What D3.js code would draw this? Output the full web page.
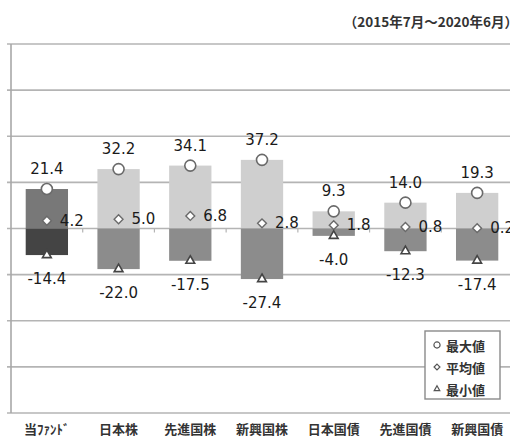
<!DOCTYPE html>
<html>
<head>
<meta charset="utf-8">
<script src="https://cdn.jsdelivr.net/npm/d3@7"></script>
<style>
  body { margin: 0; background: #fff; }
  text { font-family: "DejaVu Sans", sans-serif; }
</style>
</head>
<body>
<div id="chart"></div>
<script>
const categories = ["当ﾌｧﾝﾄﾞ", "日本株", "先進国株", "新興国株", "日本国債", "先進国債", "新興国債"];
const maxValues = [21.4, 32.2, 34.1, 37.2, 9.3, 14.0, 19.3];
const avgValues = [4.2, 5.0, 6.8, 2.8, 1.8, 0.8, 0.2];
const minValues = [-14.4, -22.0, -17.5, -27.4, -4.0, -12.3, -17.4];
const yTicks = [-100, -75, -50, -25, 0, 25, 50, 75, 100];
const legendLabels = ["最大値", "平均値", "最小値"];

const width = 510, height = 436;
const cjk = '"Noto Sans CJK JP", sans-serif';

const svg = d3.select("#chart").append("svg")
    .attr("width", width)
    .attr("height", height);

const x = d3.scaleBand()
    .domain(categories)
    .range([11, 513])
    .paddingInner(0.41)
    .paddingOuter(0.205);

const y = d3.scaleLinear()
    .domain([-100, 100])
    .range([413, 44]);

// gridlines
svg.append("g")
    .selectAll("line")
    .data(yTicks)
    .enter()
    .append("line")
    .attr("x1", 7)
    .attr("x2", width)
    .attr("y1", d => y(d))
    .attr("y2", d => y(d))
    .attr("stroke", "#b4b4b4")
    .attr("stroke-width", 1.6);

// left axis line
svg.append("line")
    .attr("x1", 11).attr("x2", 11)
    .attr("y1", y(100)).attr("y2", y(-100))
    .attr("stroke", "#a8a8a8")
    .attr("stroke-width", 1.6);

// small ticks between categories on the zero line
const gap = (x.step() - x.bandwidth()) / 2;
svg.append("g")
    .selectAll("line")
    .data(categories.slice(1))
    .enter()
    .append("line")
    .attr("x1", d => x(d) - gap)
    .attr("x2", d => x(d) - gap)
    .attr("y1", y(0))
    .attr("y2", y(0) + 4)
    .attr("stroke", "#b4b4b4")
    .attr("stroke-width", 1.2);

// bars: positive part (0..max) and negative part (min..0)
const bars = svg.append("g");
categories.forEach((c, i) => {
    const first = i === 0;
    bars.append("rect")
        .attr("x", x(c))
        .attr("width", x.bandwidth())
        .attr("y", y(maxValues[i]))
        .attr("height", y(0) - y(maxValues[i]))
        .attr("fill", first ? "#787878" : "#cfcfcf");
    bars.append("rect")
        .attr("x", x(c))
        .attr("width", x.bandwidth())
        .attr("y", y(0))
        .attr("height", y(minValues[i]) - y(0))
        .attr("fill", first ? "#444444" : "#8c8c8c");
});

const cx = c => x(c) + x.bandwidth() / 2;

// markers
svg.append("g")
    .selectAll("circle")
    .data(categories)
    .enter()
    .append("circle")
    .attr("cx", cx)
    .attr("cy", (d, i) => y(maxValues[i]))
    .attr("r", 5.5)
    .attr("fill", "#fff")
    .attr("stroke", "#6a6a6a")
    .attr("stroke-width", 1.6);

svg.append("g")
    .selectAll("path")
    .data(categories)
    .enter()
    .append("path")
    .attr("d", d3.symbol(d3.symbolDiamond2, 50))
    .attr("transform", (d, i) => `translate(${cx(d)},${y(avgValues[i])})`)
    .attr("fill", "#fff")
    .attr("stroke", "#6a6a6a")
    .attr("stroke-width", 1.4);

svg.append("g")
    .selectAll("path")
    .data(categories)
    .enter()
    .append("path")
    .attr("d", d3.symbol(d3.symbolTriangle2, 55))
    .attr("transform", (d, i) => `translate(${cx(d)},${y(minValues[i])})`)
    .attr("fill", "#fff")
    .attr("stroke", "#444")
    .attr("stroke-width", 1.6);

// value labels
const labels = svg.append("g")
    .style("font-size", "15px")
    .attr("fill", "#1a1a1a");

labels.selectAll(".max")
    .data(categories)
    .enter()
    .append("text")
    .attr("x", cx)
    .attr("y", (d, i) => y(maxValues[i]) - 20)
    .attr("text-anchor", "middle")
    .attr("dominant-baseline", "central")
    .text((d, i) => maxValues[i].toFixed(1));

labels.selectAll(".avg")
    .data(categories)
    .enter()
    .append("text")
    .attr("x", d => cx(d) + 13)
    .attr("y", (d, i) => y(avgValues[i]))
    .attr("dominant-baseline", "central")
    .text((d, i) => avgValues[i].toFixed(1));

labels.selectAll(".min")
    .data(categories)
    .enter()
    .append("text")
    .attr("x", cx)
    .attr("y", (d, i) => y(minValues[i]) + 24)
    .attr("text-anchor", "middle")
    .attr("dominant-baseline", "central")
    .text((d, i) => minValues[i].toFixed(1));

// category labels
svg.append("g")
    .selectAll("text")
    .data(categories)
    .enter()
    .append("text")
    .attr("x", cx)
    .attr("y", 428)
    .attr("text-anchor", "middle")
    .attr("dominant-baseline", "central")
    .style("font-family", cjk)
    .style("font-size", "13px")
    .style("font-weight", "bold")
    .attr("fill", "#333")
    .text(d => d);

// period note
svg.append("text")
    .attr("x", 518)
    .attr("y", 21)
    .attr("text-anchor", "end")
    .attr("dominant-baseline", "central")
    .style("font-family", cjk)
    .style("font-size", "13.5px")
    .style("font-weight", "bold")
    .attr("fill", "#333")
    .text("（2015年7月～2020年6月）");

// legend
const legend = svg.append("g");
legend.append("rect")
    .attr("x", 425).attr("y", 331)
    .attr("width", 75).attr("height", 68)
    .attr("fill", "#fff")
    .attr("stroke", "#8a8a8a")
    .attr("stroke-width", 1.4);

const legendSymbols = [d3.symbolCircle, d3.symbolDiamond2, d3.symbolTriangle2];
legendLabels.forEach((t, i) => {
    const ly = 345 + i * 22;
    legend.append("path")
        .attr("d", d3.symbol(legendSymbols[i], i === 0 ? 30 : 22))
        .attr("transform", `translate(437,${ly})`)
        .attr("fill", "#fff")
        .attr("stroke", "#555")
        .attr("stroke-width", 1.2);
    legend.append("text")
        .attr("x", 446)
        .attr("y", ly)
        .attr("dominant-baseline", "central")
        .style("font-family", cjk)
        .style("font-size", "13px")
        .style("font-weight", "bold")
        .attr("fill", "#333")
        .text(t);
});
</script>
</body>
</html>
